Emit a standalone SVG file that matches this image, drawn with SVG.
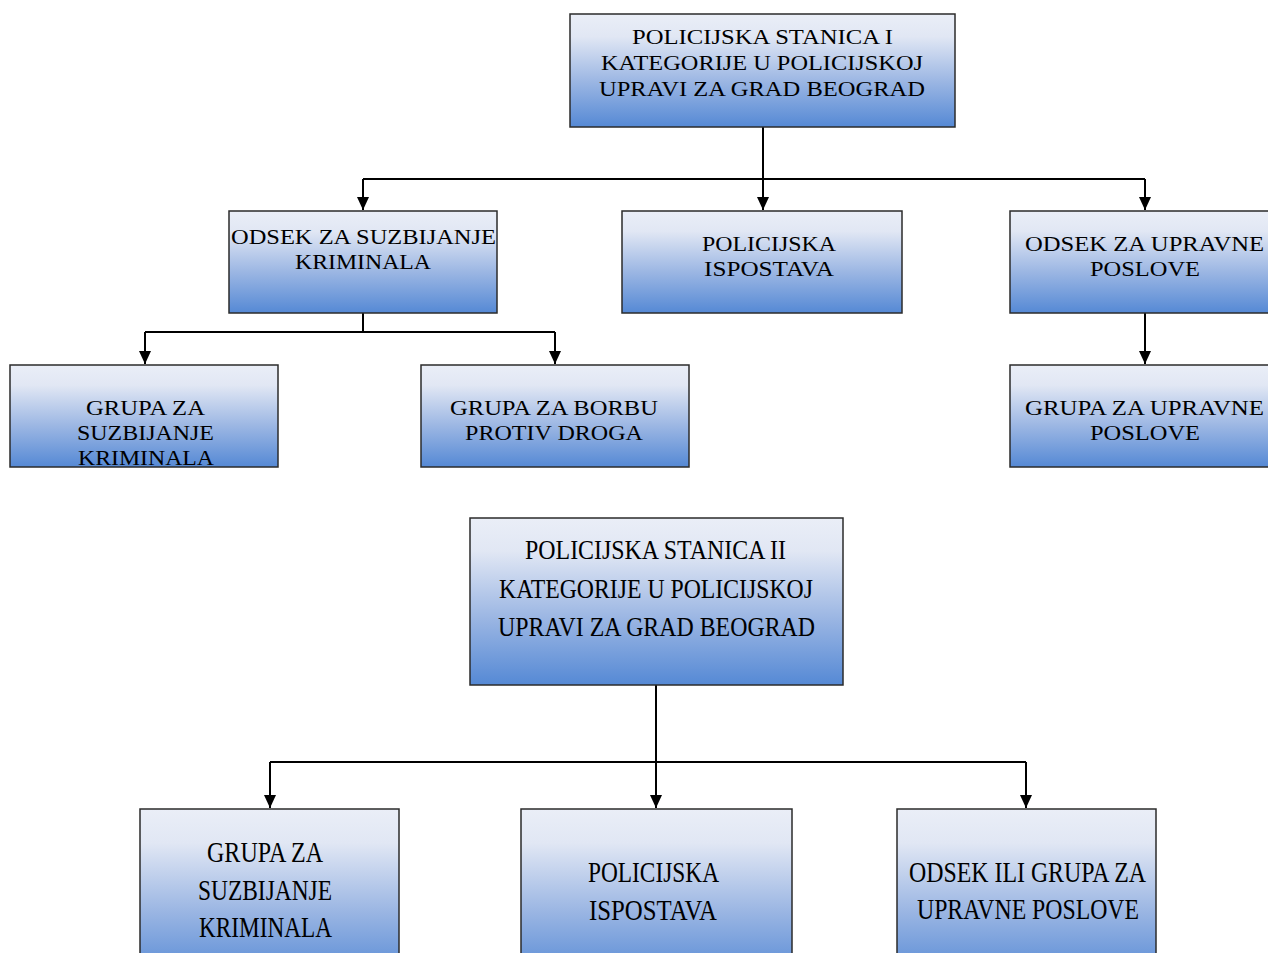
<svg xmlns="http://www.w3.org/2000/svg" width="1268" height="953" viewBox="0 0 1268 953">
<defs>
<linearGradient id="g" x1="0" y1="0" x2="0" y2="1">
<stop offset="0" stop-color="#eaeef7"/>
<stop offset="0.2" stop-color="#e1e7f4"/>
<stop offset="0.6" stop-color="#9bb6e3"/>
<stop offset="1" stop-color="#5589d5"/>
</linearGradient>
<marker id="arr" markerUnits="userSpaceOnUse" markerWidth="13" markerHeight="12" refX="13" refY="6" orient="auto" viewBox="0 0 13 12">
<path d="M0,0 L13,6 L0,12 Z" fill="#000"/>
</marker>
</defs>
<style>
.box{fill:url(#g);stroke:#2b2b2b;stroke-width:1.5}
.t{font-family:"Liberation Serif","Times New Roman",serif;font-size:21px;fill:#000;text-anchor:middle}
.b{font-family:"Liberation Serif","Times New Roman",serif;font-size:27px;fill:#000;text-anchor:middle}
.c{font-family:"Liberation Serif","Times New Roman",serif;font-size:30px;fill:#000;text-anchor:middle}
.ln{fill:none;stroke:#000;stroke-width:2}
.ar{fill:none;stroke:#000;stroke-width:2;marker-end:url(#arr)}
</style>
<rect width="1268" height="953" fill="#fff"/>
<g id="connectors">
<path class="ln" d="M763,127 V179"/>
<path class="ln" d="M363,179 H1145"/>
<path class="ar" d="M363,179 V210"/>
<path class="ar" d="M763,179 V210"/>
<path class="ar" d="M1145,179 V210"/>
<path class="ln" d="M363,313 V332 M145,332 H555"/>
<path class="ar" d="M145,332 V364"/>
<path class="ar" d="M555,332 V364"/>
<path class="ar" d="M1145,313 V364"/>
<path class="ln" d="M656,685 V762 M270,762 H1026"/>
<path class="ar" d="M270,762 V808"/>
<path class="ar" d="M656,762 V808"/>
<path class="ar" d="M1026,762 V808"/>
</g>
<g id="n1">
<rect class="box" x="570" y="14" width="385" height="113"/>
<text class="t" x="762.5" y="44" textLength="261" lengthAdjust="spacingAndGlyphs">POLICIJSKA STANICA I</text>
<text class="t" x="762" y="70" textLength="322" lengthAdjust="spacingAndGlyphs">KATEGORIJE U POLICIJSKOJ</text>
<text class="t" x="762" y="96" textLength="326" lengthAdjust="spacingAndGlyphs">UPRAVI ZA GRAD BEOGRAD</text>
</g>
<g id="n2">
<rect class="box" x="229" y="211" width="268" height="102"/>
<text class="t" x="363.5" y="244" textLength="265" lengthAdjust="spacingAndGlyphs">ODSEK ZA SUZBIJANJE</text>
<text class="t" x="363" y="269" textLength="136" lengthAdjust="spacingAndGlyphs">KRIMINALA</text>
</g>
<g id="n3">
<rect class="box" x="622" y="211" width="280" height="102"/>
<text class="t" x="769" y="251" textLength="134" lengthAdjust="spacingAndGlyphs">POLICIJSKA</text>
<text class="t" x="769" y="276" textLength="130" lengthAdjust="spacingAndGlyphs">ISPOSTAVA</text>
</g>
<g id="n4">
<rect class="box" x="1010" y="211" width="268" height="102"/>
<text class="t" x="1144.5" y="251" textLength="239" lengthAdjust="spacingAndGlyphs">ODSEK ZA UPRAVNE</text>
<text class="t" x="1145" y="276" textLength="110" lengthAdjust="spacingAndGlyphs">POSLOVE</text>
</g>
<g id="n5">
<rect class="box" x="10" y="365" width="268" height="102"/>
<text class="t" x="145.5" y="415" textLength="119" lengthAdjust="spacingAndGlyphs">GRUPA ZA</text>
<text class="t" x="145.5" y="440" textLength="137" lengthAdjust="spacingAndGlyphs">SUZBIJANJE</text>
<text class="t" x="146" y="465" textLength="136" lengthAdjust="spacingAndGlyphs">KRIMINALA</text>
</g>
<g id="n6">
<rect class="box" x="421" y="365" width="268" height="102"/>
<text class="t" x="554" y="415" textLength="208" lengthAdjust="spacingAndGlyphs">GRUPA ZA BORBU</text>
<text class="t" x="554" y="440" textLength="178" lengthAdjust="spacingAndGlyphs">PROTIV DROGA</text>
</g>
<g id="n7">
<rect class="box" x="1010" y="365" width="268" height="102"/>
<text class="t" x="1144.5" y="415" textLength="239" lengthAdjust="spacingAndGlyphs">GRUPA ZA UPRAVNE</text>
<text class="t" x="1145" y="440" textLength="110" lengthAdjust="spacingAndGlyphs">POSLOVE</text>
</g>
<g id="n8">
<rect class="box" x="470" y="518" width="373" height="167"/>
<text class="b" x="655.5" y="559" textLength="261" lengthAdjust="spacingAndGlyphs">POLICIJSKA STANICA II</text>
<text class="b" x="656" y="598" textLength="314" lengthAdjust="spacingAndGlyphs">KATEGORIJE U POLICIJSKOJ</text>
<text class="b" x="656.5" y="636" textLength="317" lengthAdjust="spacingAndGlyphs">UPRAVI ZA GRAD BEOGRAD</text>
</g>
<g id="n9">
<rect class="box" x="140" y="809" width="259" height="170"/>
<text class="c" x="265" y="862" textLength="116" lengthAdjust="spacingAndGlyphs">GRUPA ZA</text>
<text class="c" x="265" y="900" textLength="134" lengthAdjust="spacingAndGlyphs">SUZBIJANJE</text>
<text class="c" x="265.5" y="937" textLength="133" lengthAdjust="spacingAndGlyphs">KRIMINALA</text>
</g>
<g id="n10">
<rect class="box" x="521" y="809" width="271" height="170"/>
<text class="c" x="653.5" y="882" textLength="131" lengthAdjust="spacingAndGlyphs">POLICIJSKA</text>
<text class="c" x="653" y="920" textLength="128" lengthAdjust="spacingAndGlyphs">ISPOSTAVA</text>
</g>
<g id="n11">
<rect class="box" x="897" y="809" width="259" height="170"/>
<text class="c" x="1027.5" y="882" textLength="237" lengthAdjust="spacingAndGlyphs">ODSEK ILI GRUPA ZA</text>
<text class="c" x="1028" y="919" textLength="222" lengthAdjust="spacingAndGlyphs">UPRAVNE POSLOVE</text>
</g>
</svg>
